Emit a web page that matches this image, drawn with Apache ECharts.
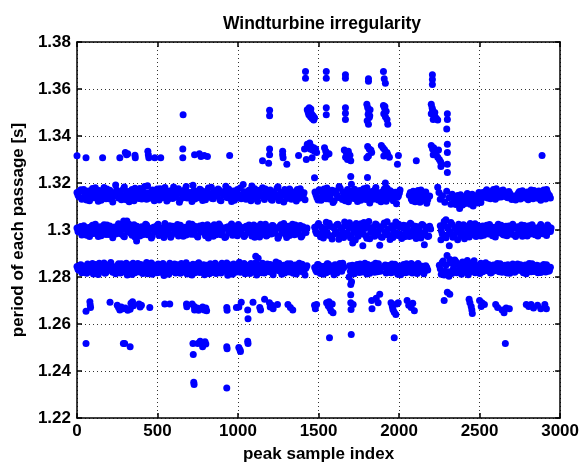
<!DOCTYPE html>
<html>
<head>
<meta charset="utf-8">
<script src="https://cdn.jsdelivr.net/npm/echarts@6/dist/echarts.min.js"></script>
<style>html,body{margin:0;padding:0;background:#fff}#c{width:582px;height:468px}</style>
</head>
<body>
<div id="c"></div>
<script>
var titleText = "Windturbine irregularity";
var xName = "peak sample index";
var yName = "period of each passage [s]";
var xTicks = [0, 500, 1000, 1500, 2000, 2500, 3000];
var yTicks = [1.22, 1.24, 1.26, 1.28, 1.3, 1.32, 1.34, 1.36, 1.38];

var upperBand = [
[0,1.3160],[12,1.3141],[24,1.3171],[36,1.3135],[48,1.3158],[60,1.3128],[72,1.3166],[84,1.3149],[96,1.3177],[108,1.3139],
[120,1.3155],[132,1.3122],[144,1.3163],[156,1.3146],[168,1.3181],[180,1.3133],[192,1.3152],[204,1.3169],[216,1.3138],[228,1.3157],
[240,1.3192],[252,1.3144],[264,1.3163],[276,1.3129],[288,1.3174],[300,1.3148],[312,1.3159],[324,1.3120],[336,1.3167],[348,1.3140],
[360,1.3178],[372,1.3151],[384,1.3134],[396,1.3165],[408,1.3147],[420,1.3185],[432,1.3131],[444,1.3158],[456,1.3142],[468,1.3170],
[480,1.3125],[492,1.3161],[504,1.3149],[516,1.3176],[528,1.3137],[540,1.3154],[552,1.3168],[564,1.3130],[576,1.3162],[588,1.3145],
[600,1.3183],[612,1.3139],[624,1.3156],[636,1.3118],[648,1.3165],[660,1.3150],[672,1.3173],[684,1.3136],[696,1.3159],[708,1.3143],
[720,1.3190],[732,1.3132],[744,1.3163],[756,1.3147],[768,1.3171],[780,1.3126],[792,1.3157],[804,1.3140],[816,1.3179],[828,1.3152],
[840,1.3134],[852,1.3167],[864,1.3145],[876,1.3174],[888,1.3128],[900,1.3160],[912,1.3148],[924,1.3186],[936,1.3137],[948,1.3155],
[960,1.3121],[972,1.3166],[984,1.3142],[996,1.3172],[1008,1.3150],[1020,1.3133],[1032,1.3194],[1044,1.3158],[1056,1.3140],[1068,1.3169],
[1080,1.3124],[1092,1.3153],[1104,1.3176],[1116,1.3138],[1128,1.3161],[1140,1.3146],[1152,1.3180],[1164,1.3130],[1176,1.3157],[1188,1.3143],
[1200,1.3170],[1212,1.3127],[1224,1.3162],[1236,1.3149],[1248,1.3184],[1260,1.3136],[1272,1.3154],[1284,1.3119],[1296,1.3167],[1308,1.3144],
[1320,1.3175],[1332,1.3131],[1344,1.3158],[1356,1.3141],[1368,1.3172],[1380,1.3135],[1392,1.3163],[1404,1.3147],[1416,1.3129],
[1478,1.3162],[1490,1.3138],[1504,1.3171],[1516,1.3127],[1528,1.3155],[1540,1.3143],[1552,1.3179],[1566,1.3132],[1578,1.3158],[1590,1.3117],
[1604,1.3166],[1616,1.3148],[1628,1.3185],[1642,1.3136],[1654,1.3160],[1666,1.3124],[1680,1.3172],[1692,1.3145],[1704,1.3195],[1718,1.3134],
[1730,1.3157],[1742,1.3121],[1756,1.3168],[1768,1.3141],[1780,1.3176],[1794,1.3130],[1806,1.3153],[1818,1.3115],[1832,1.3164],[1844,1.3147],
[1856,1.3181],[1870,1.3128],[1882,1.3159],[1894,1.3138],[1908,1.3174],[1920,1.3122],[1932,1.3151],[1946,1.3167],[1958,1.3133],[1970,1.3160],
[1984,1.3112],[1996,1.3145],[2006,1.3170],
[2064,1.3148],[2076,1.3132],[2088,1.3165],[2100,1.3120],[2112,1.3156],[2124,1.3139],[2136,1.3170],[2148,1.3127],[2160,1.3152],[2172,1.3114],[2184,1.3143],
[2240,1.3182],[2248,1.3160],[2256,1.3131],[2270,1.3146],[2284,1.3118],[2296,1.3165],[2310,1.3137],[2322,1.3110],[2330,1.3152],
[2340,1.3135],[2352,1.3108],[2364,1.3147],[2376,1.3092],[2388,1.3125],[2400,1.3140],[2412,1.3113],[2424,1.3155],[2436,1.3120],[2448,1.3134],
[2460,1.3102],[2472,1.3146],[2484,1.3128],[2496,1.3160],[2508,1.3117],
[2520,1.3160],[2532,1.3142],[2544,1.3171],[2556,1.3150],[2568,1.3133],[2580,1.3165],[2592,1.3147],[2604,1.3176],[2616,1.3139],[2628,1.3158],
[2640,1.3168],[2652,1.3145],[2664,1.3161],[2676,1.3137],[2688,1.3155],[2700,1.3130],[2712,1.3141],[2724,1.3128],[2736,1.3150],[2748,1.3164],
[2760,1.3143],[2772,1.3157],[2784,1.3136],[2796,1.3162],[2808,1.3148],[2820,1.3170],[2832,1.3133],[2844,1.3155],[2856,1.3140],[2868,1.3166],
[2880,1.3127],[2892,1.3159],[2904,1.3144],[2916,1.3172],[2928,1.3150],[2940,1.3136]
];

var upperBand2 = [
[6,1.3149],[18,1.3166],[30,1.3131],[42,1.3172],[54,1.3143],[66,1.3158],[78,1.3125],[90,1.3163],[102,1.3137],[114,1.3180],
[126,1.3146],[138,1.3168],[150,1.3127],[162,1.3155],[174,1.3140],[186,1.3175],[198,1.3133],[210,1.3160],[222,1.3119],[234,1.3150],
[246,1.3170],[258,1.3136],[270,1.3157],[282,1.3142],[294,1.3183],[306,1.3129],[318,1.3164],[330,1.3145],[342,1.3172],[354,1.3124],
[366,1.3156],[378,1.3139],[390,1.3177],[402,1.3132],[414,1.3161],[426,1.3148],[438,1.3188],[450,1.3135],[462,1.3153],[474,1.3166],
[486,1.3141],[498,1.3174],[510,1.3128],[522,1.3159],[534,1.3144],[546,1.3181],[558,1.3123],[570,1.3150],[582,1.3167],[594,1.3134],
[606,1.3162],[618,1.3147],[630,1.3176],[642,1.3130],[654,1.3155],[666,1.3138],[678,1.3185],[690,1.3143],[702,1.3160],[714,1.3121],
[726,1.3168],[738,1.3151],[750,1.3137],[762,1.3173],[774,1.3145],[786,1.3164],[798,1.3129],[810,1.3156],[822,1.3140],[834,1.3182],
[846,1.3133],[858,1.3159],[870,1.3146],[882,1.3170],[894,1.3124],[906,1.3152],[918,1.3166],[930,1.3139],[942,1.3175],[954,1.3144],
[966,1.3161],[978,1.3127],[990,1.3157],[1002,1.3136],[1014,1.3179],[1026,1.3148],[1038,1.3163],[1050,1.3131],[1062,1.3154],[1074,1.3142],
[1086,1.3187],[1098,1.3135],[1110,1.3160],[1122,1.3122],[1134,1.3169],[1146,1.3151],[1158,1.3138],[1170,1.3174],[1182,1.3147],[1194,1.3165],
[1206,1.3130],[1218,1.3156],[1230,1.3141],[1242,1.3178],[1254,1.3126],[1266,1.3161],[1278,1.3149],[1290,1.3172],[1302,1.3134],[1314,1.3155],
[1326,1.3168],[1338,1.3137],[1350,1.3160],[1362,1.3123],[1374,1.3151],[1386,1.3176],[1398,1.3140],[1410,1.3158],
[1484,1.3150],[1497,1.3128],[1510,1.3165],[1522,1.3141],[1534,1.3174],[1547,1.3133],[1560,1.3158],[1572,1.3146],[1584,1.3169],[1597,1.3125],
[1610,1.3154],[1622,1.3138],[1635,1.3177],[1648,1.3130],[1660,1.3161],[1673,1.3143],[1686,1.3120],[1698,1.3166],[1711,1.3149],[1724,1.3173],
[1736,1.3135],[1749,1.3156],[1762,1.3127],[1774,1.3163],[1787,1.3148],[1800,1.3180],[1812,1.3137],[1825,1.3159],[1838,1.3131],[1850,1.3171],
[1863,1.3144],[1876,1.3156],[1888,1.3120],[1901,1.3165],[1914,1.3142],[1926,1.3178],[1939,1.3136],[1952,1.3152],[1964,1.3124],[1977,1.3161],[1990,1.3139],[2002,1.3157],
[2070,1.3160],[2082,1.3125],[2094,1.3147],[2106,1.3135],[2118,1.3168],[2130,1.3118],[2142,1.3150],[2154,1.3138],[2166,1.3162],[2178,1.3129],[2190,1.3145],
[2346,1.3120],[2358,1.3140],[2370,1.3115],[2382,1.3150],[2394,1.3106],[2406,1.3132],[2418,1.3124],[2430,1.3143],[2442,1.3110],[2454,1.3152],
[2466,1.3125],[2478,1.3137],[2490,1.3115],[2502,1.3148],[2514,1.3135],
[2526,1.3149],[2538,1.3165],[2550,1.3136],[2562,1.3158],[2574,1.3144],[2586,1.3172],[2598,1.3131],[2610,1.3160],[2622,1.3147],[2634,1.3140],
[2646,1.3170],[2658,1.3153],[2670,1.3139],[2682,1.3164],[2694,1.3148],[2706,1.3135],[2718,1.3145],[2730,1.3138],[2742,1.3158],[2754,1.3132],
[2766,1.3167],[2778,1.3146],[2790,1.3154],[2802,1.3129],[2814,1.3161],[2826,1.3141],[2838,1.3168],[2850,1.3150],[2862,1.3135],[2874,1.3157],
[2886,1.3143],[2898,1.3170],[2910,1.3132],[2922,1.3160],[2934,1.3147]
];

var middleBand = [
[0,1.3008],[12,1.2991],[24,1.3015],[36,1.2984],[48,1.3003],[60,1.2978],[72,1.3011],[84,1.2995],[96,1.3020],[108,1.2987],
[120,1.3005],[132,1.2972],[144,1.3014],[156,1.2998],[168,1.3022],[180,1.2981],[192,1.3001],[204,1.3017],[216,1.2989],[228,1.3006],
[240,1.2983],[252,1.3013],[264,1.2993],[276,1.3019],[288,1.2976],[300,1.3009],[312,1.2997],[324,1.3024],[336,1.2985],[348,1.3002],
[360,1.2970],[372,1.3016],[384,1.2992],[396,1.3011],[408,1.2980],[420,1.3004],[432,1.3021],[444,1.2988],[456,1.3007],[468,1.2975],
[480,1.3013],[492,1.2996],[504,1.3025],[516,1.2983],[528,1.3001],[540,1.2968],[552,1.3015],[564,1.2990],[576,1.3018],[588,1.2979],
[600,1.3006],[612,1.2994],[624,1.3023],[636,1.2986],[648,1.3003],[660,1.2973],[672,1.3012],[684,1.2998],[696,1.3027],[708,1.2982],
[720,1.3000],[732,1.3016],[744,1.2977],[756,1.3009],[768,1.2993],[780,1.3020],[792,1.2985],[804,1.3005],[816,1.2966],[828,1.3014],
[840,1.2996],[852,1.3022],[864,1.2980],[876,1.3002],[888,1.3018],[900,1.2987],[912,1.3008],[924,1.2971],[936,1.3013],[948,1.2995],
[960,1.3026],[972,1.2984],[984,1.3003],[996,1.2976],[1008,1.3017],[1020,1.2991],[1032,1.3010],[1044,1.2979],[1056,1.3006],[1068,1.3021],
[1080,1.2988],[1092,1.3004],[1104,1.2969],[1116,1.3015],[1128,1.2997],[1140,1.3024],[1152,1.2982],[1164,1.3001],[1176,1.2974],[1188,1.3012],
[1200,1.2994],[1212,1.3019],[1224,1.2986],[1236,1.3007],[1248,1.2965],[1260,1.3016],[1272,1.2992],[1284,1.3028],[1296,1.2981],[1308,1.3003],
[1320,1.2977],[1332,1.3011],[1344,1.2996],[1356,1.3021],[1368,1.2983],[1380,1.3005],[1392,1.2970],[1404,1.3014],[1416,1.2993],[1428,1.3009],
[1476,1.3012],[1488,1.2985],[1500,1.3028],[1512,1.2971],[1524,1.3004],[1536,1.2990],[1548,1.3033],[1560,1.2978],[1572,1.3015],[1584,1.2962],
[1596,1.3008],[1608,1.2994],[1620,1.3025],[1632,1.2980],[1644,1.3010],[1656,1.2968],[1668,1.3019],[1680,1.2987],[1692,1.3031],[1704,1.2975],
[1716,1.3003],[1728,1.2957],[1740,1.3014],[1752,1.2992],[1764,1.3027],[1776,1.2983],[1788,1.3006],[1800,1.2965],[1812,1.3036],[1824,1.2989],
[1836,1.3011],[1848,1.2973],[1860,1.3022],[1872,1.2995],[1884,1.3009],[1896,1.2969],[1908,1.3030],[1920,1.2981],[1932,1.3005],[1944,1.2960],
[1956,1.3018],[1968,1.2991],[1980,1.3034],[1992,1.2977],[2004,1.3013],[2016,1.2964],[2028,1.3020],[2040,1.2986],[2052,1.3007],[2064,1.2972],
[2076,1.3025],[2088,1.2993],[2100,1.3016],[2112,1.2979],[2124,1.3002],[2136,1.2966],[2148,1.3021],[2160,1.2988],[2172,1.3012],[2184,1.2975],[2196,1.3004],
[2256,1.3018],[2268,1.2984],[2280,1.3036],[2292,1.2967],[2304,1.3009],[2316,1.2993],[2328,1.3025],[2340,1.2978],[2352,1.3004],[2364,1.2959],
[2376,1.3015],[2388,1.2990],[2400,1.3022],[2412,1.2981],[2424,1.3008],[2436,1.2970],[2448,1.3013],[2460,1.2996],[2472,1.3027],[2484,1.2985],
[2496,1.3003],[2508,1.2974],[2520,1.3017],[2532,1.2992],[2544,1.3020],[2556,1.2983],[2568,1.3006],[2580,1.2976],[2592,1.3012],[2604,1.2995],
[2616,1.3024],[2628,1.2987],[2640,1.3004],[2652,1.2979],[2664,1.3016],[2676,1.2993],[2688,1.3010],[2700,1.2982],[2712,1.3007],[2724,1.2972],
[2736,1.3014],[2748,1.2997],[2760,1.3021],[2772,1.2986],[2784,1.3005],[2796,1.2975],[2808,1.3018],[2820,1.2991],[2832,1.3012],[2844,1.2980],
[2856,1.3008],[2868,1.2995],[2880,1.3023],[2892,1.2984],[2904,1.3003],[2916,1.2977],[2928,1.3015],[2940,1.2994]
];

var middleBand2 = [
[6,1.2994],[18,1.3012],[30,1.2979],[42,1.3018],[54,1.2990],[66,1.3006],[78,1.2972],[90,1.3015],[102,1.2985],[114,1.3024],
[126,1.2996],[138,1.3010],[150,1.2976],[162,1.3004],[174,1.2989],[186,1.3021],[198,1.2981],[210,1.3008],[222,1.2967],[234,1.3013],
[246,1.2998],[258,1.3027],[270,1.2984],[282,1.3003],[294,1.2971],[306,1.3017],[318,1.2992],[330,1.3009],[342,1.2978],[354,1.3022],
[366,1.2995],[378,1.3006],[390,1.2974],[402,1.3014],[414,1.2987],[426,1.3025],[438,1.2980],[450,1.3002],[462,1.2966],[474,1.3011],
[486,1.2993],[498,1.3019],[510,1.2977],[522,1.3007],[534,1.2990],[546,1.3028],[558,1.2983],[570,1.3004],[582,1.2969],[594,1.3016],
[606,1.2991],[618,1.3010],[630,1.2975],[642,1.3020],[654,1.2997],[666,1.3008],[678,1.2979],[690,1.3013],[702,1.2986],[714,1.3024],
[726,1.2982],[738,1.3005],[750,1.2970],[762,1.3017],[774,1.2994],[786,1.3011],[798,1.2976],[810,1.3022],[822,1.2988],[834,1.3007],
[846,1.2973],[858,1.3015],[870,1.2992],[882,1.3026],[894,1.2980],[906,1.3003],[918,1.2968],[930,1.3012],[942,1.2989],[954,1.3019],
[966,1.2978],[978,1.3006],[990,1.2995],[1002,1.3023],[1014,1.2984],[1026,1.3009],[1038,1.2972],[1050,1.3016],[1062,1.2990],[1074,1.3004],
[1086,1.2975],[1098,1.3021],[1110,1.2986],[1122,1.3010],[1134,1.2970],[1146,1.3014],[1158,1.2993],[1170,1.3025],[1182,1.2979],[1194,1.3007],
[1206,1.2983],[1218,1.3018],[1230,1.2996],[1242,1.3009],[1254,1.2974],[1266,1.3022],[1278,1.2988],[1290,1.3005],[1302,1.2968],[1314,1.3016],
[1326,1.2992],[1338,1.3024],[1350,1.2980],[1362,1.3008],[1374,1.2995],[1386,1.3019],[1398,1.2977],[1410,1.3006],[1422,1.2989],
[1482,1.2995],[1494,1.3020],[1506,1.2982],[1518,1.3012],[1530,1.2966],[1542,1.3006],[1554,1.2988],[1566,1.3029],[1578,1.2975],[1590,1.3013],
[1602,1.2984],[1614,1.3022],[1626,1.2961],[1638,1.3008],[1650,1.2993],[1662,1.3034],[1674,1.2979],[1686,1.3011],[1698,1.2967],[1710,1.3017],
[1722,1.2990],[1734,1.3028],[1746,1.2973],[1758,1.3005],[1770,1.2986],[1782,1.3032],[1794,1.2976],[1806,1.3014],[1818,1.2963],[1830,1.3009],
[1842,1.2994],[1854,1.3026],[1866,1.2980],[1878,1.3012],[1890,1.2970],[1902,1.3019],[1914,1.2992],[1926,1.3035],[1938,1.2978],[1950,1.3007],
[1962,1.2968],[1974,1.3015],[1986,1.2987],[1998,1.3024],[2010,1.2982],[2022,1.3010],[2034,1.2971],[2046,1.3018],[2058,1.2995],[2070,1.3029],
[2082,1.2976],[2094,1.3006],[2106,1.2964],[2118,1.3014],[2130,1.2990],[2142,1.3023],[2154,1.2980],[2166,1.3008],[2178,1.2972],[2190,1.3016],
[2262,1.2998],[2274,1.3021],[2286,1.2978],[2298,1.3014],[2310,1.2985],[2322,1.3032],[2334,1.2969],[2346,1.3010],[2358,1.2991],[2370,1.3024],
[2382,1.2976],[2394,1.3008],[2406,1.2963],[2418,1.3016],[2430,1.2994],[2442,1.3028],[2454,1.2981],[2466,1.3005],[2478,1.2972],[2490,1.3019],
[2502,1.2989],[2514,1.3011],[2526,1.2978],[2538,1.3006],[2550,1.2996],[2562,1.3023],[2574,1.2984],[2586,1.3009],[2598,1.2970],[2610,1.3014],
[2622,1.2992],[2634,1.3020],[2646,1.2981],[2658,1.3003],[2670,1.2976],[2682,1.3017],[2694,1.2988],[2706,1.3025],[2718,1.2979],[2730,1.3008],
[2742,1.2990],[2754,1.3013],[2766,1.2973],[2778,1.3019],[2790,1.2996],[2802,1.3010],[2814,1.2983],[2826,1.3022],[2838,1.2993],[2850,1.3006],
[2862,1.2975],[2874,1.3015],[2886,1.2988],[2898,1.3009],[2910,1.2982],[2922,1.3021],[2934,1.2996],[2944,1.3008]
];

var lowerBand = [
[0,1.2845],[12,1.2829],[24,1.2852],[36,1.2821],[48,1.2840],[60,1.2816],[72,1.2848],[84,1.2833],[96,1.2857],[108,1.2825],
[120,1.2842],[132,1.2811],[144,1.2850],[156,1.2836],[168,1.2860],[180,1.2819],[192,1.2839],[204,1.2854],[216,1.2827],[228,1.2844],
[240,1.2814],[252,1.2849],[264,1.2831],[276,1.2856],[288,1.2822],[300,1.2841],[312,1.2808],[324,1.2851],[336,1.2834],[348,1.2858],
[360,1.2818],[372,1.2843],[384,1.2828],[396,1.2853],[408,1.2815],[420,1.2838],[432,1.2862],[444,1.2824],[456,1.2846],[468,1.2812],
[480,1.2850],[492,1.2832],[504,1.2855],[516,1.2820],[528,1.2840],[540,1.2806],[552,1.2847],[564,1.2830],[576,1.2859],[588,1.2823],
[600,1.2843],[612,1.2817],[624,1.2852],[636,1.2835],[648,1.2857],[660,1.2821],[672,1.2839],[684,1.2813],[696,1.2849],[708,1.2829],
[720,1.2854],[732,1.2818],[744,1.2842],[756,1.2861],[768,1.2826],[780,1.2845],[792,1.2810],[804,1.2850],[816,1.2833],[828,1.2856],
[840,1.2819],[852,1.2840],[864,1.2815],[876,1.2848],[888,1.2831],[900,1.2858],[912,1.2824],[924,1.2843],[936,1.2807],[948,1.2851],
[960,1.2836],[972,1.2855],[984,1.2820],[996,1.2841],[1008,1.2863],[1020,1.2827],[1032,1.2846],[1044,1.2814],[1056,1.2849],[1068,1.2832],
[1080,1.2857],[1092,1.2822],[1104,1.2838],[1116,1.2809],[1128,1.2852],[1140,1.2834],[1152,1.2859],[1164,1.2817],[1176,1.2844],[1188,1.2826],
[1200,1.2853],[1212,1.2819],[1224,1.2839],[1236,1.2864],[1248,1.2828],[1260,1.2847],[1272,1.2812],[1284,1.2850],[1296,1.2835],[1308,1.2856],
[1320,1.2821],[1332,1.2842],[1344,1.2816],[1356,1.2851],[1368,1.2830],[1380,1.2858],[1392,1.2823],[1404,1.2840],[1416,1.2808],[1428,1.2848],
[1476,1.2840],[1488,1.2822],[1500,1.2852],[1512,1.2815],[1524,1.2837],[1536,1.2846],[1548,1.2818],[1560,1.2855],[1572,1.2829],[1584,1.2843],
[1596,1.2810],[1608,1.2850],[1620,1.2833],[1632,1.2857],[1644,1.2824],[1656,1.2839],[1692,1.2848],[1704,1.2816],[1716,1.2841],[1728,1.2826],
[1740,1.2853],[1752,1.2819],[1764,1.2845],[1776,1.2831],[1788,1.2858],[1800,1.2813],[1812,1.2842],[1824,1.2827],[1836,1.2851],[1848,1.2820],
[1860,1.2838],[1872,1.2856],[1884,1.2825],[1908,1.2844],[1920,1.2817],[1932,1.2849],[1944,1.2832],[1956,1.2855],[1968,1.2821],[1980,1.2840],
[1992,1.2812],[2004,1.2847],[2016,1.2829],[2028,1.2853],[2040,1.2818],[2052,1.2843],[2064,1.2834],[2076,1.2857],[2088,1.2823],[2100,1.2841],
[2112,1.2815],[2124,1.2850],[2136,1.2836],[2148,1.2846],[2160,1.2826],[2172,1.2840],
[2250,1.2850],[2262,1.2812],[2274,1.2868],[2286,1.2825],[2298,1.2891],[2310,1.2803],[2322,1.2860],[2334,1.2831],[2346,1.2872],[2358,1.2818],
[2370,1.2855],[2382,1.2836],[2394,1.2864],[2406,1.2821],[2418,1.2848],[2430,1.2810],[2442,1.2858],[2454,1.2833],[2466,1.2869],[2478,1.2824],
[2490,1.2845],[2502,1.2815],[2514,1.2853],[2526,1.2838],[2538,1.2861],[2550,1.2827],[2562,1.2844],[2574,1.2819],[2586,1.2851],[2598,1.2834],
[2610,1.2857],[2622,1.2822],[2634,1.2841],[2646,1.2828],[2658,1.2850],[2670,1.2817],[2682,1.2846],[2694,1.2831],[2706,1.2855],[2718,1.2820],
[2730,1.2843],[2742,1.2835],[2754,1.2852],[2766,1.2825],[2778,1.2840],[2790,1.2814],[2802,1.2849],[2814,1.2832],[2826,1.2856],[2838,1.2823],
[2850,1.2842],[2862,1.2818],[2874,1.2847],[2886,1.2836],[2898,1.2853],[2910,1.2821],[2922,1.2839],[2934,1.2828]
];

var lowerBand2 = [
[6,1.2833],[18,1.2850],[30,1.2818],[42,1.2846],[54,1.2827],[66,1.2855],[78,1.2822],[90,1.2841],[102,1.2813],[114,1.2853],
[126,1.2830],[138,1.2858],[150,1.2824],[162,1.2844],[174,1.2816],[186,1.2849],[198,1.2835],[210,1.2862],[222,1.2820],[234,1.2839],
[246,1.2828],[258,1.2856],[270,1.2817],[282,1.2845],[294,1.2832],[306,1.2859],[318,1.2823],[330,1.2840],[342,1.2811],[354,1.2852],
[366,1.2836],[378,1.2857],[390,1.2821],[402,1.2843],[414,1.2829],[426,1.2851],[438,1.2814],[450,1.2837],[462,1.2860],[474,1.2826],
[486,1.2844],[498,1.2818],[510,1.2853],[522,1.2834],[534,1.2857],[546,1.2823],[558,1.2841],[570,1.2812],[582,1.2848],[594,1.2831],
[606,1.2855],[618,1.2827],[630,1.2845],[642,1.2816],[654,1.2850],[666,1.2836],[678,1.2861],[690,1.2822],[702,1.2840],[714,1.2809],
[726,1.2847],[738,1.2833],[750,1.2856],[762,1.2819],[774,1.2838],[786,1.2852],[798,1.2825],[810,1.2844],[822,1.2814],[834,1.2849],
[846,1.2830],[858,1.2858],[870,1.2821],[882,1.2842],[894,1.2817],[906,1.2851],[918,1.2835],[930,1.2860],[942,1.2826],[954,1.2843],
[966,1.2812],[978,1.2848],[990,1.2832],[1002,1.2854],[1014,1.2820],[1026,1.2839],[1038,1.2857],[1050,1.2824],[1062,1.2845],[1074,1.2815],
[1086,1.2850],[1098,1.2834],[1110,1.2861],[1122,1.2828],[1134,1.2841],[1146,1.2818],[1158,1.2847],[1170,1.2831],[1182,1.2855],[1194,1.2822],
[1206,1.2843],[1218,1.2810],[1230,1.2849],[1242,1.2836],[1254,1.2858],[1266,1.2825],[1278,1.2840],[1290,1.2817],[1302,1.2852],[1314,1.2833],
[1326,1.2856],[1338,1.2820],[1350,1.2844],[1362,1.2813],[1374,1.2847],[1386,1.2829],[1398,1.2854],[1410,1.2826],[1422,1.2838],
[1482,1.2830],[1494,1.2853],[1506,1.2820],[1518,1.2845],[1530,1.2812],[1542,1.2838],[1554,1.2856],[1566,1.2823],[1578,1.2847],[1590,1.2828],
[1602,1.2852],[1614,1.2817],[1626,1.2841],[1638,1.2834],[1650,1.2858],[1698,1.2825],[1710,1.2850],[1722,1.2814],[1734,1.2839],[1746,1.2833],
[1758,1.2855],[1770,1.2821],[1782,1.2846],[1794,1.2829],[1806,1.2853],[1818,1.2816],[1830,1.2843],[1842,1.2835],[1854,1.2859],[1866,1.2822],
[1878,1.2840],[1914,1.2851],[1926,1.2827],[1938,1.2845],[1950,1.2818],[1962,1.2839],[1974,1.2854],[1986,1.2824],[1998,1.2842],[2010,1.2810],
[2022,1.2848],[2034,1.2831],[2046,1.2856],[2058,1.2821],[2070,1.2844],[2082,1.2817],[2094,1.2850],[2106,1.2834],[2118,1.2857],[2130,1.2823],
[2142,1.2840],[2154,1.2814],[2166,1.2848],[2178,1.2830],
[2256,1.2835],[2268,1.2862],[2280,1.2808],[2292,1.2851],[2304,1.2822],[2316,1.2875],[2328,1.2815],[2340,1.2848],[2352,1.2866],[2364,1.2826],
[2376,1.2843],[2388,1.2812],[2400,1.2859],[2412,1.2834],[2424,1.2870],[2436,1.2820],[2448,1.2841],[2460,1.2856],[2472,1.2818],[2484,1.2849],
[2496,1.2830],[2508,1.2858],[2520,1.2822],[2532,1.2845],[2544,1.2836],[2556,1.2853],[2568,1.2817],[2580,1.2840],[2592,1.2827],[2604,1.2850],
[2616,1.2835],[2628,1.2856],[2640,1.2820],[2652,1.2843],[2664,1.2831],[2676,1.2852],[2688,1.2816],[2700,1.2839],[2712,1.2848],[2724,1.2824],
[2736,1.2855],[2748,1.2829],[2760,1.2844],[2772,1.2818],[2784,1.2851],[2796,1.2833],[2808,1.2857],[2820,1.2822],[2832,1.2840],[2844,1.2827],
[2856,1.2850],[2868,1.2836],[2880,1.2819],[2892,1.2845],[2904,1.2831],[2916,1.2852],[2928,1.2824],[2940,1.2842]
];

var outliersHigh = [
[1419,1.3674],[1419,1.3646],[1548,1.3675],[1548,1.3646],[1667,1.3661],[1667,1.3646],[1810,1.3644],[1810,1.3633],
[1903,1.3675],[1908,1.3644],[1915,1.3624],[2207,1.3661],[2207,1.3640],[2207,1.3619],
[659,1.3490],[1196,1.3510],[1196,1.3486],
[1430,1.3512],[1436,1.3500],[1440,1.3490],[1446,1.3505],[1450,1.3482],[1456,1.3495],[1460,1.3475],[1466,1.3486],[1470,1.3468],[1475,1.3478],[1442,1.3520],[1452,1.3515],
[1548,1.3520],[1548,1.3490],[1667,1.3520],[1667,1.3497],[1667,1.3470],
[1800,1.3535],[1805,1.3521],[1812,1.3507],[1808,1.3493],[1815,1.3479],[1802,1.3465],[1810,1.3450],[1820,1.3512],[1818,1.3486],
[1903,1.3530],[1910,1.3518],[1920,1.3505],[1905,1.3495],[1915,1.3482],[1925,1.3470],[1930,1.3450],[1912,1.3526],
[2200,1.3535],[2205,1.3520],[2210,1.3505],[2200,1.3495],[2218,1.3490],[2225,1.3480],[2232,1.3475],[2240,1.3468],[2212,1.3470],[2222,1.3500],[2208,1.3512],
[2300,1.3495],[2300,1.3470],[2296,1.3430],
[0,1.3316],[56,1.3307],[159,1.3307],[266,1.3307],[300,1.3330],[308,1.3320],[315,1.3325],[360,1.3318],[362,1.3307],[440,1.3335],[443,1.3320],[446,1.3307],
[483,1.3307],[520,1.3307],[657,1.3345],[657,1.3307],[730,1.3320],[760,1.3325],[770,1.3313],[790,1.3317],[810,1.3313],[948,1.3317],
[1152,1.3295],[1196,1.3345],[1196,1.3320],[1190,1.3284],[1277,1.3335],[1277,1.3320],[1280,1.3307],[1303,1.3280],[1376,1.3317],[1413,1.3345],[1424,1.3300],
[1430,1.3365],[1436,1.3352],[1442,1.3360],[1448,1.3345],[1455,1.3355],[1462,1.3340],[1470,1.3350],[1476,1.3335],[1482,1.3345],[1488,1.3330],[1445,1.3370],[1460,1.3307],
[1537,1.3350],[1545,1.3335],[1550,1.3320],[1540,1.3310],[1565,1.3325],
[1660,1.3340],[1672,1.3330],[1685,1.3335],[1668,1.3310],[1680,1.3300],[1695,1.3318],[1700,1.3295],
[1805,1.3355],[1815,1.3345],[1825,1.3340],[1830,1.3330],[1810,1.3315],[1800,1.3307],
[1890,1.3360],[1900,1.3350],[1910,1.3342],[1925,1.3330],[1930,1.3320],[1940,1.3310],[1905,1.3315],
[1996,1.3317],[1990,1.3280],[2107,1.3295],
[2200,1.3360],[2208,1.3345],[2215,1.3350],[2222,1.3335],[2230,1.3325],[2240,1.3310],[2250,1.3300],[2258,1.3290],[2265,1.3280],[2212,1.3320],[2245,1.3340],[2260,1.3270],
[2300,1.3365],[2300,1.3330],[2300,1.3280],[2300,1.3245],[2888,1.3317],
[1475,1.3222],[1700,1.3228],[1804,1.3223],[1915,1.3200]
];

var outliersMid = [
[290,1.3038],[310,1.3038],[370,1.2953],[1712,1.2945],[1775,1.2933],[1880,1.2935],[2157,1.2937],[2291,1.3044],[2260,1.2959],[2312,1.2933],
[1110,1.2888],[1125,1.2880],[1690,1.2800],[1705,1.2780]
];

var outliersLow = [
[56,1.2654],[80,1.2695],[82,1.2681],[84,1.2670],[205,1.2693],[250,1.2680],[258,1.2670],[266,1.2660],[275,1.2672],[285,1.2665],[300,1.2668],
[315,1.2658],[330,1.2663],[335,1.2688],[345,1.2695],[350,1.2678],[385,1.2685],[392,1.2672],[400,1.2680],[452,1.2670],[545,1.2685],[576,1.2685],
[680,1.2685],[682,1.2673],[715,1.2685],[728,1.2675],[730,1.2660],[745,1.2668],[755,1.2658],[765,1.2665],[780,1.2672],[790,1.2660],[800,1.2668],[805,1.2656],
[930,1.2670],[932,1.2658],[990,1.2670],[1005,1.2672],[1020,1.2693],[1060,1.2660],[1062,1.2622],[1093,1.2693],[1135,1.2670],[1140,1.2660],[1165,1.2705],
[1195,1.2690],[1200,1.2672],[1210,1.2680],[1218,1.2665],[1245,1.2683],[1310,1.2683],[1325,1.2670],[1340,1.2660],[1488,1.2683],[1475,1.2680],[1480,1.2665],
[1550,1.2690],[1560,1.2678],[1570,1.2668],[1578,1.2655],[1585,1.2685],[1590,1.2648],[1565,1.2695],
[1700,1.2725],[1700,1.2690],[1715,1.2683],[1702,1.2662],[1700,1.2768],
[1830,1.2700],[1832,1.2665],[1858,1.2710],[1880,1.2727],[1870,1.2690],
[1950,1.2690],[1958,1.2675],[1962,1.2662],[1970,1.2650],[1985,1.2685],[1995,1.2690],[1980,1.2640],
[2050,1.2700],[2060,1.2680],[2075,1.2670],[2085,1.2688],[2095,1.2656],
[2280,1.2700],[2300,1.2735],[2315,1.2727],
[2435,1.2705],[2440,1.2690],[2448,1.2675],[2452,1.2660],[2455,1.2645],
[2500,1.2700],[2515,1.2690],[2530,1.2683],[2510,1.2675],
[2600,1.2683],[2612,1.2670],[2640,1.2660],[2652,1.2648],[2665,1.2668],[2685,1.2665],
[2790,1.2683],[2805,1.2675],[2820,1.2683],[2835,1.2668],[2860,1.2680],[2880,1.2665],[2905,1.2683],[2915,1.2665],
[56,1.2517],[288,1.2517],[296,1.2517],[330,1.2503],[720,1.2517],[722,1.2470],[750,1.2517],[765,1.2527],[780,1.2503],[795,1.2525],[800,1.2515],
[930,1.2503],[932,1.2495],[1005,1.2500],[1012,1.2490],[1015,1.2483],[1060,1.2527],[1062,1.2517],[1568,1.2541],[1703,1.2555],[1970,1.2541],[2660,1.2517],
[725,1.2352],[727,1.2343],[930,1.2328]
];

var FONT = 'Liberation Sans, Arial, sans-serif';
var chart = echarts.init(document.getElementById('c'), null, {renderer: 'canvas'});
function axisCommon(extra) {
  return Object.assign({
    type: 'value',
    axisLine: {show: true, onZero: false, lineStyle: {color: '#000', width: 1.5}},
    axisTick: {show: true, inside: true, length: 5, lineStyle: {color: '#000', width: 1.5}},
    splitLine: {show: false},
    axisLabel: {show: false}
  }, extra);
}
function mkSeries(d) {
  return {type: 'scatter', data: d, symbol: 'circle', symbolSize: 7,
          itemStyle: {color: '#0000ff', opacity: 1}, silent: true, xAxisIndex: 0, yAxisIndex: 0};
}
var option = {
  backgroundColor: '#ffffff',
  animation: false,
  title: {text: titleText, left: 317, top: 10, textAlign: 'center',
          textStyle: {fontFamily: FONT, fontSize: 17.5, fontWeight: 'bold', color: '#000'}},
  grid: {left: 77, right: 21, top: 42, bottom: 46, containLabel: false},
  xAxis: [
    axisCommon({position: 'bottom', min: xTicks[0], max: xTicks[xTicks.length-1], interval: xTicks[1]-xTicks[0],
      name: xName, nameLocation: 'middle', nameGap: 28,
      nameTextStyle: {fontFamily: FONT, fontSize: 17, fontWeight: 'bold', color: '#000'},
      axisLabel: {show: true, margin: 5, fontFamily: FONT, fontSize: 17, fontWeight: 'bold', color: '#000',
        formatter: function (v) { return String(v); }},
      splitLine: {show: true, lineStyle: {color: '#333', width: 1, type: [1, 3]}}}),
    axisCommon({position: 'top', min: xTicks[0], max: xTicks[xTicks.length-1], interval: xTicks[1]-xTicks[0]})
  ],
  yAxis: [
    axisCommon({position: 'left', min: yTicks[0], max: yTicks[yTicks.length-1], interval: 0.02,
      name: yName, nameLocation: 'middle', nameGap: 44, nameRotate: 90,
      nameTextStyle: {fontFamily: FONT, fontSize: 17, fontWeight: 'bold', color: '#000'},
      axisLabel: {show: true, margin: 6, fontFamily: FONT, fontSize: 17, fontWeight: 'bold', color: '#000',
        formatter: function (v) { return String(Math.round(v * 100) / 100); }},
      splitLine: {show: true, lineStyle: {color: '#333', width: 1, type: [1, 3]}}}),
    axisCommon({position: 'right', min: yTicks[0], max: yTicks[yTicks.length-1], interval: 0.02})
  ],
  series: [mkSeries(upperBand), mkSeries(upperBand2), mkSeries(middleBand), mkSeries(middleBand2),
           mkSeries(lowerBand), mkSeries(lowerBand2),
           mkSeries(outliersHigh), mkSeries(outliersMid), mkSeries(outliersLow)]
};
chart.setOption(option);
</script>
</body>
</html>
